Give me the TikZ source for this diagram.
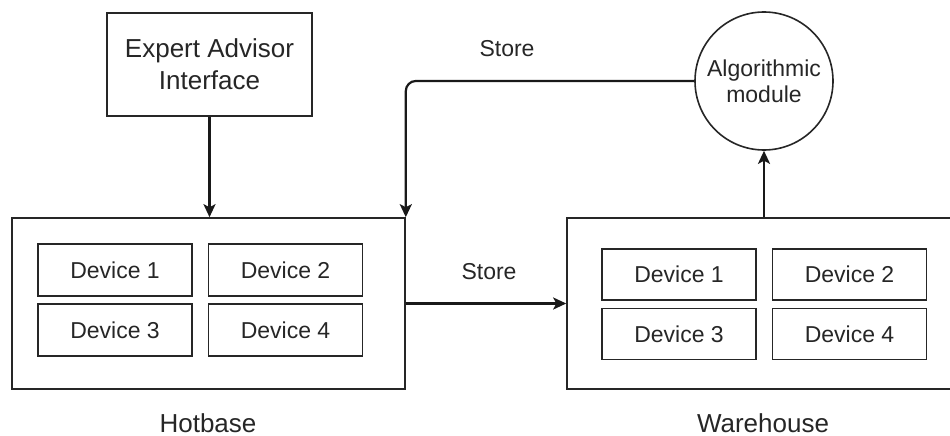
\documentclass[tikz,border=0pt]{standalone}
\usepackage{fontspec}
\setmainfont{Liberation Sans}
\usetikzlibrary{arrows.meta}
\begin{document}
\begin{tikzpicture}[x=1pt,y=-1pt,
  box/.style={draw=black!85, line width=1.6pt, inner sep=0pt},
  dev/.style={box, minimum width=154pt, minimum height=52pt, font=\fontsize{23}{27}\selectfont, text=black!85},
  big/.style={font=\fontsize{26}{32}\selectfont, text=black!85},
  small/.style={font=\fontsize{23}{26}\selectfont, text=black!85},
  arr/.style={line width=2.2pt, draw=black!90, -{Stealth[length=13pt,width=12pt,inset=3pt]}}]
\useasboundingbox (0,0) rectangle (950,436);
\clip (0,0) rectangle (950,436);

% Expert Advisor Interface
\node[box, big, minimum width=205pt, minimum height=103pt, align=center] (eai) at (209.5,64.5) {Expert Advisor\\Interface};

% Hotbase
\node[box, minimum width=393pt, minimum height=171pt] (hb) at (208.5,303.5) {};
\node[dev] (h1) at (115,270) {Device 1};
\node[dev] (h2) at (285.5,270) {Device 2};
\node[dev] (h3) at (115,330) {Device 3};
\node[dev] (h4) at (285.5,330) {Device 4};
\node[big, anchor=base, inner sep=0pt] (hbl) at (208,432) {Hotbase};

% Warehouse
\node[box, minimum width=395pt, minimum height=171pt] (wh) at (764.5,303.5) {};
\node[dev, minimum height=51pt] (w1) at (679,274.5) {Device 1};
\node[dev, minimum height=51pt] (w2) at (849.5,274.5) {Device 2};
\node[dev, minimum height=51pt] (w3) at (679,334) {Device 3};
\node[dev, minimum height=51pt] (w4) at (849.5,334) {Device 4};
\node[big, anchor=base, inner sep=0pt] (whl) at (763,432) {Warehouse};

% Algorithmic module
\node[box, circle, minimum size=138pt, small, align=center] (alg) at (764,81) {Algorithmic\\module};

% connectors
\draw[arr] (eai.south) -- (hb.north -| eai.south);
\draw[arr] (wh.north -| alg.south) -- (alg.south);
\draw[arr] (hb.east) -- (wh.west);
\draw[arr, rounded corners=10pt] (alg.west) -| (hb.north east);

% labels
\node[small] (s1) at (507,49) {Store};
\node[small] (s2) at (489,272) {Store};
\end{tikzpicture}
\end{document}
